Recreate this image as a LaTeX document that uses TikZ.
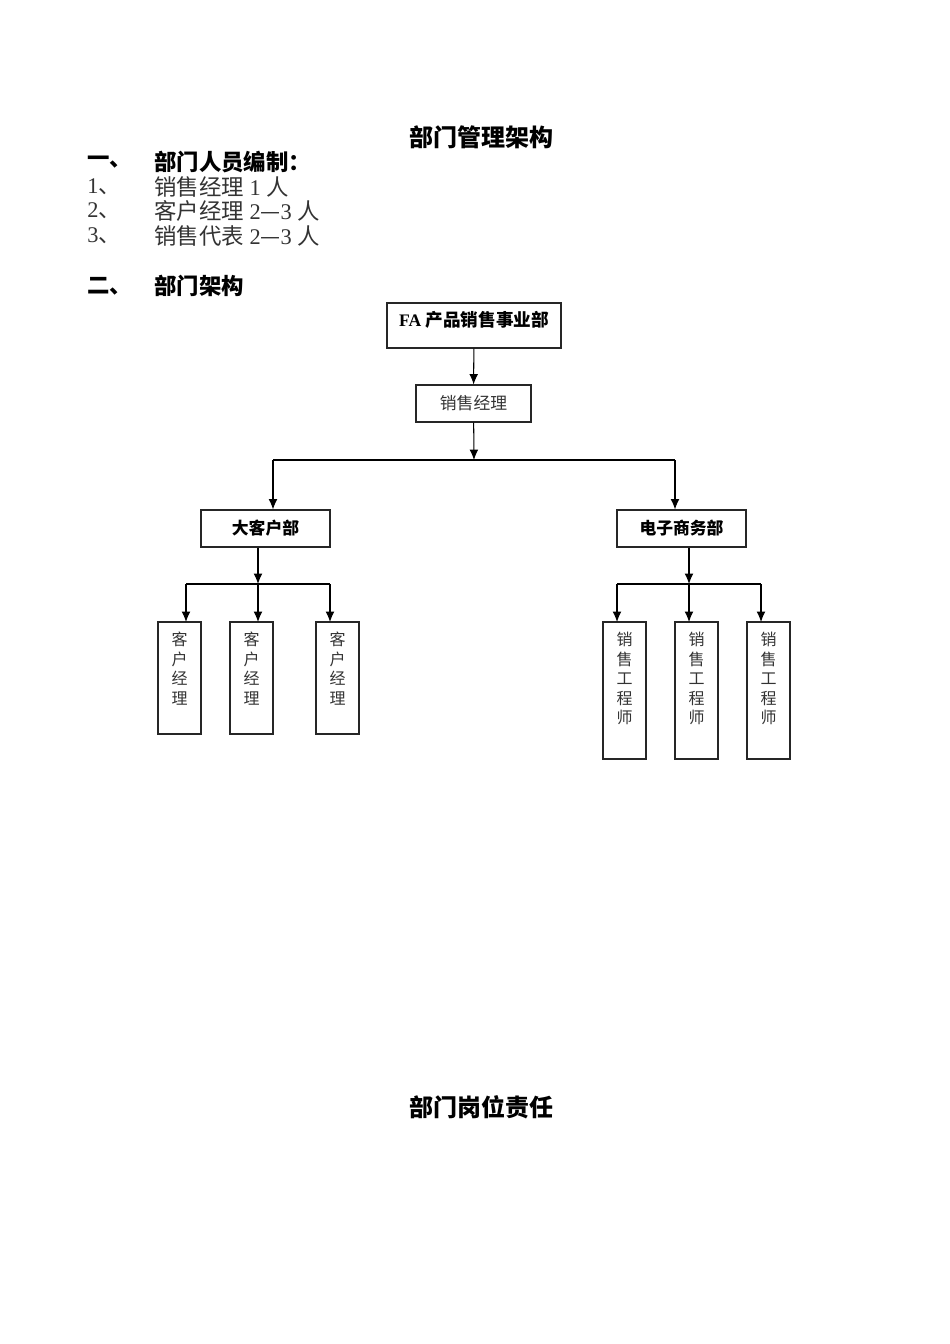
\documentclass[tikz,border=0pt]{standalone}
\usepackage{fontspec}
\setmainfont{Liberation Serif}
\newfontfamily\cjk{Noto Sans CJK SC}
\usetikzlibrary{arrows.meta}

\newdimen\px \px=0.625pt
\colorlet{txt}{black!80}
\colorlet{rahmen}{black!85}

\tikzset{
  box/.style={draw=rahmen, line width=0.65pt, inner sep=0pt},
  boxtext/.style={font=\cjk\fontsize{10.5}{12.5}\selectfont},
  vtext/.style={font=\cjk\fontsize{10}{12.2}\selectfont, align=center, anchor=north, inner sep=0pt, text=txt},
  conn/.style={draw=black, line width=0.65pt},
  arr/.style={conn, -{Latex[length=6.5pt,width=5.5pt]}},
  big/.style={font=\fontsize{14}{17}\selectfont, anchor=west, inner sep=0pt},
}

\begin{document}
\begin{tikzpicture}[x=0.625pt, y=-0.625pt]
    \useasboundingbox (0,0) rectangle (950,1344);

    % heading and staff list
    \node[font=\cjk\bfseries\fontsize{15}{18}\selectfont] (title) at (481,137) {部门管理架构};
    \node[big] (h1num) at (87,162) {\cjk\bfseries 一、};
    \node[big] (h1) at (154,162) {\cjk\bfseries 部门人员编制：};
    \node[big, text=txt] (n1) at (87,187) {1{\cjk 、}};
    \node[big, text=txt] (i1) at (154,187) {{\cjk 销售经理} 1 {\cjk 人}};
    \node[big, text=txt] (n2) at (87,211) {2{\cjk 、}};
    \node[big, text=txt] (i2) at (154,211) {{\cjk 客户经理} 2{\cjk —}3 {\cjk 人}};
    \node[big, text=txt] (n3) at (87,236) {3{\cjk 、}};
    \node[big, text=txt] (i3) at (154,236) {{\cjk 销售代表} 2{\cjk —}3 {\cjk 人}};
    \node[big] (h2num) at (87,286) {\cjk\bfseries 二、};
    \node[big] (h2) at (154,286) {\cjk\bfseries 部门架构};

    % top of the chart
    \node[box, minimum width=174\px, minimum height=45\px] (fa) at (474,325.5) {};
    \node[font=\bfseries\fontsize{11}{13}\selectfont] (fatext) at (474,320) {FA {\cjk 产品销售事业部}};
    \node[box, boxtext, text=txt, minimum width=115\px, minimum height=37\px] (xsjl) at (473.5,403.5) {销售经理};
    \draw[arr] (fa) -- (xsjl);
    \coordinate (split) at (474,460);
    \draw[arr] (xsjl) -- (split);

    \node[box, boxtext, font=\cjk\bfseries\fontsize{10.5}{12.5}\selectfont, minimum width=129\px, minimum height=37\px] (dkh) at (265.5,528.5) {大客户部};
    \node[box, boxtext, font=\cjk\bfseries\fontsize{10.5}{12.5}\selectfont, minimum width=129\px, minimum height=37\px] (dzsw) at (681.5,528.5) {电子商务部};
    \coordinate (l1) at (273,460);
    \coordinate (r1) at (675,460);
    \draw[conn] (l1) -- (r1);
    \draw[arr] (l1) -- (l1 |- dkh.north);
    \draw[arr] (r1) -- (r1 |- dzsw.north);

    % left branch
    \coordinate (l2) at (258,584);
    \draw[arr] (l2 |- dkh.south) -- (l2);
    \draw[conn] (186,584) coordinate (la) -- (330,584) coordinate (lb);
    \foreach \i/\bx/\ax in {1/179.5/186, 2/251.5/258, 3/337.5/330} {
        \node[box, minimum width=43\px, minimum height=112\px] (kh\i) at (\bx,678) {};
        \node[vtext] (kht\i) at ([yshift=-6.5pt]kh\i.north) {客\\户\\经\\理};
        \draw[arr] (\ax,584) -- (\ax,622);
    }

    % right branch
    \coordinate (r2) at (689,584);
    \draw[arr] (r2 |- dzsw.south) -- (r2);
    \draw[conn] (617,584) coordinate (ra) -- (761,584) coordinate (rb);
    \foreach \i/\bx/\ax in {1/624.5/617, 2/696.5/689, 3/768.5/761} {
        \node[box, minimum width=43\px, minimum height=137\px] (gc\i) at (\bx,690.5) {};
        \node[vtext] (gct\i) at ([yshift=-6.5pt]gc\i.north) {销\\售\\工\\程\\师};
        \draw[arr] (\ax,584) -- (\ax,622);
    }

    \node[font=\cjk\bfseries\fontsize{15}{18}\selectfont] (title2) at (481,1107) {部门岗位责任};

\end{tikzpicture}
\end{document}
